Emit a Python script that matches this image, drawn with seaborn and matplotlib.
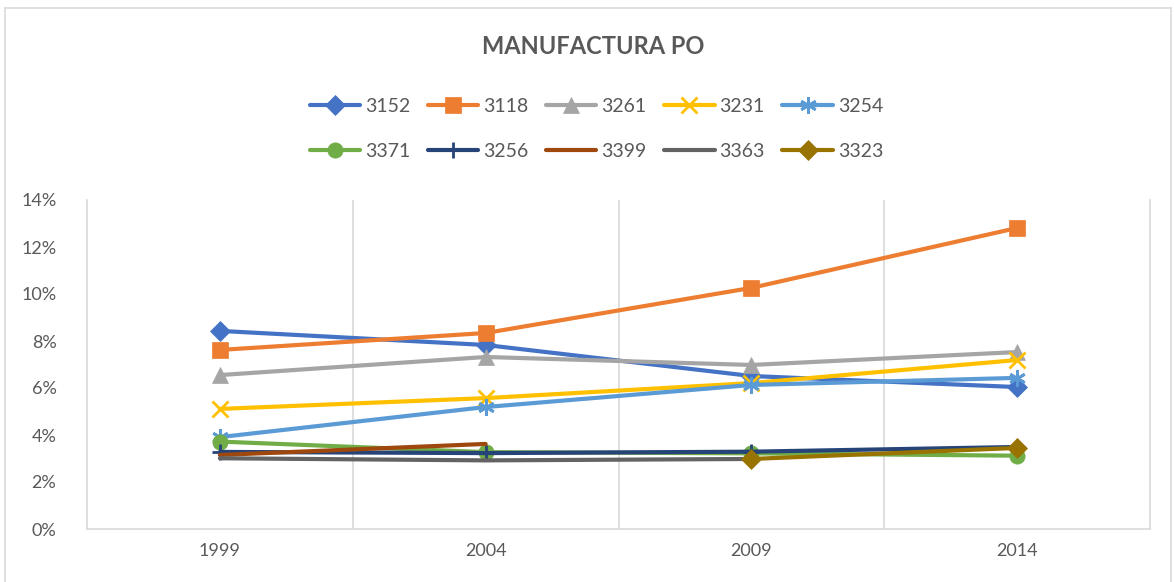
import numpy as np
import pandas as pd
import matplotlib.pyplot as plt
import seaborn as sns
from matplotlib.patches import Rectangle
from matplotlib.ticker import FuncFormatter

sns.set_style('white')
plt.rcParams['font.family'] = ['Lato', 'DejaVu Sans']

years = [1999, 2004, 2009, 2014]

# share of employment (%)
s3152 = [8.43, 7.83, 6.51, 6.04]
s3118 = [7.62, 8.34, 10.26, 12.81]
s3261 = [6.55, 7.32, 6.98, 7.53]
s3231 = [5.11, 5.57, 6.21, 7.19]
s3254 = [3.91, 5.19, 6.13, 6.43]
s3371 = [3.72, 3.27, 3.22, 3.12]
s3256 = [3.28, 3.23, 3.29, 3.49]
s3399 = [3.15, 3.62, np.nan, np.nan]
s3363 = [3.01, 2.92, 2.98, np.nan]
s3323 = [np.nan, np.nan, 2.98, 3.45]

labels = ['3152', '3118', '3261', '3231', '3254',
          '3371', '3256', '3399', '3363', '3323']
series = [s3152, s3118, s3261, s3231, s3254,
          s3371, s3256, s3399, s3363, s3323]
colors = ['#4472C4', '#ED7D31', '#A5A5A5', '#FFC000', '#5B9BD5',
          '#70AD47', '#264478', '#9E480E', '#636363', '#997300']
markers = ['D', 's', '^', 'x', (6, 2, 0), 'o', '+', None, None, 'D']
msizes = [10, 11, 11, 11, 12, 11, 12, 0, 0, 10]

fig = plt.figure(figsize=(11.74, 5.82), dpi=100)
ax = fig.add_axes([87 / 1174, 1 - 529 / 582, (1150 - 87) / 1174, (529 - 200) / 582])

for lab, vals, col, mk, ms in zip(labels, series, colors, markers, msizes):
    d = pd.DataFrame({'year': years, 'value': vals}).dropna()
    sns.lineplot(data=d, x='year', y='value', ax=ax, color=col, linewidth=3,
                 marker=mk, markersize=ms, markeredgecolor=col, markerfacecolor=col,
                 markeredgewidth=2 if mk in ('x', '+', (6, 2, 0)) else 0.5,
                 label=lab, legend=False)

ax.set_xlim(1999 - 2.5, 2014 + 2.5)
ax.set_ylim(0, 14)
ax.set_yticks(np.arange(0, 15, 2))
ax.yaxis.set_major_formatter(FuncFormatter(lambda v, p: f'{v:.0f}%'))
ax.set_xticks(years)
ax.set_xticklabels([str(y) for y in years])
ax.set_xlabel('')
ax.set_ylabel('')
ax.tick_params(axis='both', length=0, labelsize=13, colors='#595959', pad=10)
ax.tick_params(axis='y', pad=22)

for xg in [2001.5, 2006.5, 2011.5]:
    ax.axvline(xg, color='#D9D9D9', linewidth=1.2, zorder=0)
ax.spines['top'].set_visible(False)
for sp in ['left', 'right', 'bottom']:
    ax.spines[sp].set_color('#D9D9D9')
    ax.spines[sp].set_linewidth(1.2)

fig.text(0.505, 1 - 47 / 582, 'MANUFACTURA PO', ha='center', va='center',
         fontsize=17, fontweight='bold', color='#595959')

# legend fills column by column, so interleave to get two rows of five
handles, labs = ax.get_legend_handles_labels()
order = [0, 5, 1, 6, 2, 7, 3, 8, 4, 9]
fig.legend([handles[i] for i in order], [labs[i] for i in order], ncol=5,
           loc='center', bbox_to_anchor=(0.508, 1 - 129 / 582),
           frameon=False, fontsize=14, handlelength=2.6, handletextpad=0.25,
           columnspacing=0.9, labelspacing=1.45, labelcolor='#595959')

fig.patches.append(Rectangle((5 / 1174, -0.01), 1166 / 1174, 1 - 8 / 582 + 0.01,
                             transform=fig.transFigure, fill=False,
                             edgecolor='#D9D9D9', linewidth=1.2))

fig.savefig('out.png', dpi=100)
